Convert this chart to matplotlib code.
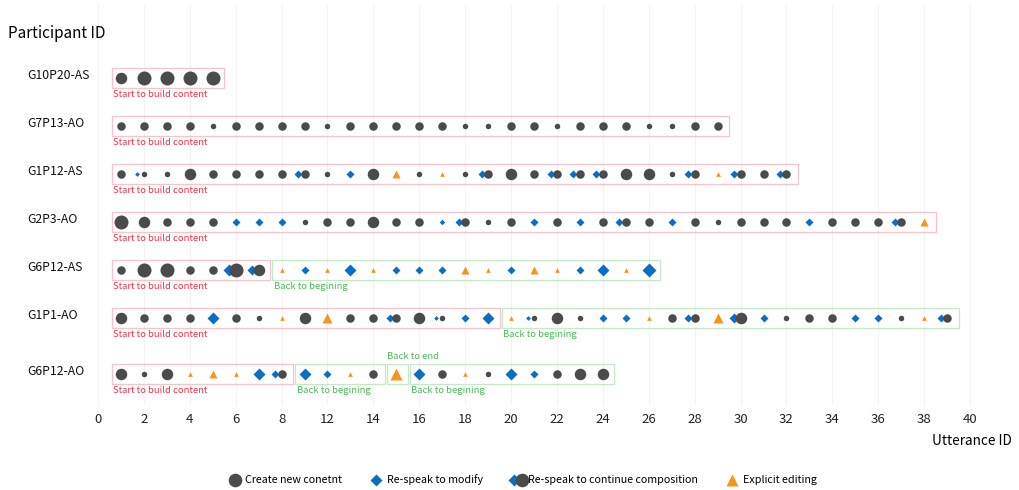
import matplotlib.pyplot as plt
from matplotlib.lines import Line2D
from matplotlib.patches import Rectangle
from matplotlib.legend_handler import HandlerTuple
import matplotlib.transforms as mtransforms

plt.rcParams['font.family'] = ['Noto Sans CJK JP', 'DejaVu Sans']

participants = ["G10P20-AS", "G7P13-AO", "G1P12-AS", "G2P3-AO", "G6P12-AS", "G1P1-AO", "G6P12-AO"]

# c = create new content, m = re-speak to modify, k = re-speak to continue, e = explicit editing
kinds_g10p20_as = list("ccccc")
sizes_g10p20_as = [3, 4, 4, 4, 4]

kinds_g7p13_ao = list("c" * 27)
sizes_g7p13_ao = [2, 2, 2, 2, 1, 2, 2, 2, 2, 1, 2, 2, 2, 2, 2, 1, 1, 2, 2, 1, 2, 2, 2, 1, 1, 2, 2]

kinds_g1p12_as = ['c', 'k', 'c', 'c', 'c', 'c', 'c', 'c', 'k', 'c', 'm', 'c', 'e', 'c', 'e',
                  'c', 'k', 'c', 'c', 'k', 'k', 'k', 'c', 'c', 'c', 'k', 'e', 'k', 'c', 'k']
sizes_g1p12_as = [2, 1, 1, 3, 2, 2, 2, 2, 2, 1, 2, 3, 2, 1, 1, 1, 2, 3, 2, 2, 2, 2, 3, 3, 1, 2, 1, 2, 2, 2]

kinds_g2p3_ao = ['c', 'c', 'c', 'c', 'c', 'm', 'm', 'm', 'c', 'c', 'c', 'c', 'c', 'c', 'm', 'k', 'c', 'c',
                 'm', 'c', 'm', 'c', 'k', 'c', 'm', 'c', 'c', 'c', 'c', 'c', 'm', 'c', 'c', 'c', 'k', 'e']
sizes_g2p3_ao = [4, 3, 2, 2, 2, 2, 2, 2, 1, 2, 2, 3, 2, 2, 1, 2, 1, 2,
                 2, 2, 2, 2, 2, 2, 2, 2, 1, 2, 2, 2, 2, 2, 2, 2, 2, 2]

kinds_g6p12_as = ['c', 'c', 'c', 'c', 'c', 'k', 'k', 'e', 'm', 'e', 'm', 'e',
                  'm', 'm', 'm', 'e', 'e', 'm', 'e', 'e', 'm', 'm', 'e', 'm']
sizes_g6p12_as = [2, 4, 4, 2, 2, 4, 3, 1, 2, 1, 3, 1, 2, 2, 2, 2, 1, 2, 2, 1, 2, 3, 1, 4]

kinds_g1p1_ao = ['c', 'c', 'c', 'c', 'm', 'c', 'c', 'e', 'c', 'e', 'c', 'c', 'k', 'c', 'k', 'm', 'm', 'e', 'k',
                 'c', 'c', 'm', 'm', 'e', 'c', 'k', 'e', 'k', 'm', 'c', 'c', 'c', 'm', 'm', 'c', 'e', 'k']
sizes_g1p1_ao = [3, 2, 2, 2, 3, 2, 1, 1, 3, 3, 2, 2, 2, 3, 1, 2, 3, 1, 1,
                 3, 1, 2, 2, 1, 2, 2, 3, 3, 2, 1, 2, 2, 2, 2, 1, 1, 2]

kinds_g6p12_ao = ['c', 'c', 'c', 'e', 'e', 'e', 'm', 'k', 'm', 'm', 'e', 'c',
                  'e', 'm', 'c', 'e', 'c', 'm', 'm', 'c', 'c', 'c']
sizes_g6p12_ao = [3, 1, 3, 1, 2, 1, 3, 2, 3, 2, 1, 2, 4, 3, 2, 1, 1, 3, 2, 2, 3, 3]

all_kinds = [kinds_g10p20_as, kinds_g7p13_ao, kinds_g1p12_as, kinds_g2p3_ao,
             kinds_g6p12_as, kinds_g1p1_ao, kinds_g6p12_ao]
all_sizes = [sizes_g10p20_as, sizes_g7p13_ao, sizes_g1p12_as, sizes_g2p3_ao,
             sizes_g6p12_as, sizes_g1p1_ao, sizes_g6p12_ao]

# segments: (first utterance, last utterance, label)
segments = [
    [(1, 5, "Start to build content")],
    [(1, 27, "Start to build content")],
    [(1, 30, "Start to build content")],
    [(1, 36, "Start to build content")],
    [(1, 7, "Start to build content"), (8, 24, "Back to begining")],
    [(1, 17, "Start to build content"), (18, 37, "Back to begining")],
    [(1, 8, "Start to build content"), (9, 12, "Back to begining"),
     (13, 13, "Back to end"), (14, 22, "Back to begining")],
]

tick_pos = list(range(0, 40, 2))
tick_labels = ["0", "2", "4", "6", "8", "12", "14", "16", "18", "20", "22",
               "24", "26", "28", "30", "32", "34", "36", "38", "40"]

row_y = [0, 1, 2, 3, 4, 5, 6.17]

GRAY = '#4b4b4b'
BLUE = '#0a6fc2'
ORANGE = '#f7941d'
px = {1: 5.5, 2: 8.5, 3: 11.5, 4: 14.0}

fig = plt.figure(figsize=(10.19, 4.90), dpi=100)
ax = fig.add_axes([98 / 1019, 85 / 490, 906 / 1019, 400 / 490])
ax.set_xlim(0, 39.48)
ax.set_ylim(6.82, -1.52)


def circle(x, y, lvl):
    ax.plot(x, y, 'o', ms=px[lvl] * 0.72, color=GRAY, mec='none', zorder=4)


def diamond(x, y, lvl, scale=1.0):
    ax.plot(x, y, 'D', ms=px[lvl] * 0.72 / 1.414 * scale, color=BLUE, mec='none', zorder=3)


def triangle(x, y, lvl):
    ax.plot(x, y, '^', ms=px[lvl] * 0.72 * 0.85, color=ORANGE, mec='none', zorder=3)


for y, kinds, sizes in zip(row_y, all_kinds, all_sizes):
    for i, (k, s) in enumerate(zip(kinds, sizes)):
        x = i + 1
        if k == 'c':
            circle(x, y, s)
        elif k == 'm':
            diamond(x, y, s)
        elif k == 'e':
            triangle(x, y, s)
        else:
            diamond(x - 0.28, y, s, 0.85)
            circle(x, y, s)

for y, segs in zip(row_y, segments):
    for first, last, label in segs:
        if label.startswith("Start"):
            ec, tc = '#f8c4cb', '#f0334a'
        else:
            ec, tc = '#c4e8c8', '#4cbb5a'
        left = first - 0.4
        ax.add_patch(Rectangle((left, y - 0.21), last - first + 0.9, 0.42,
                               fill=False, ec=ec, lw=0.9, zorder=2))
        if label == "Back to end":
            ax.text(left, y - 0.26, label, ha='left', va='bottom', fontsize=6.8, color=tc)
        else:
            ax.text(left + 0.05, y + 0.25, label, ha='left', va='top', fontsize=6.8, color=tc)

ax.set_xticks(tick_pos)
ax.set_xticklabels(tick_labels, fontsize=9.5, color='#222222')
ax.set_yticks(row_y)
ax.set_yticklabels(participants, fontsize=8.8, color='#111111')
ax.tick_params(axis='x', length=0, pad=6)
ax.tick_params(axis='y', length=0, pad=51)
offset = mtransforms.ScaledTranslation(0, 0.035, fig.dpi_scale_trans)
for lbl in ax.get_yticklabels():
    lbl.set_ha('left')
    lbl.set_transform(lbl.get_transform() + offset)

ax.grid(axis='x', color='#f3f3f3', lw=0.8)
ax.set_axisbelow(True)
for sp in ax.spines.values():
    sp.set_visible(False)

fig.text(8 / 1019, 1 - 33 / 490, "Participant ID", ha='left', va='center', fontsize=11)
fig.text(1012 / 1019, 1 - 441 / 490, "Utterance ID", ha='right', va='center', fontsize=9.8)

h_create = Line2D([], [], ls='none', marker='o', ms=9.8, color=GRAY, mec='none')
h_modify = Line2D([], [], ls='none', marker='D', ms=6.0, color=BLUE, mec='none')
h_cont = (Line2D([], [], ls='none', marker='D', ms=6.0, color=BLUE, mec='none'),
          Line2D([], [], ls='none', marker='o', ms=9.8, color=GRAY, mec='none'))
h_edit = Line2D([], [], ls='none', marker='^', ms=9.0, color=ORANGE, mec='none')
fig.legend([h_create, h_modify, h_cont, h_edit],
           ["Create new conetnt", "Re-speak to modify", "Re-speak to continue composition", "Explicit editing"],
           loc='center', bbox_to_anchor=(522 / 1019, 1 - 480 / 490), ncol=4, frameon=False,
           fontsize=7.7, handlelength=1.4, handletextpad=0.3, columnspacing=2.5,
           handler_map={tuple: HandlerTuple(ndivide=None, pad=0.1)})

fig.savefig("out.png", dpi=100)
